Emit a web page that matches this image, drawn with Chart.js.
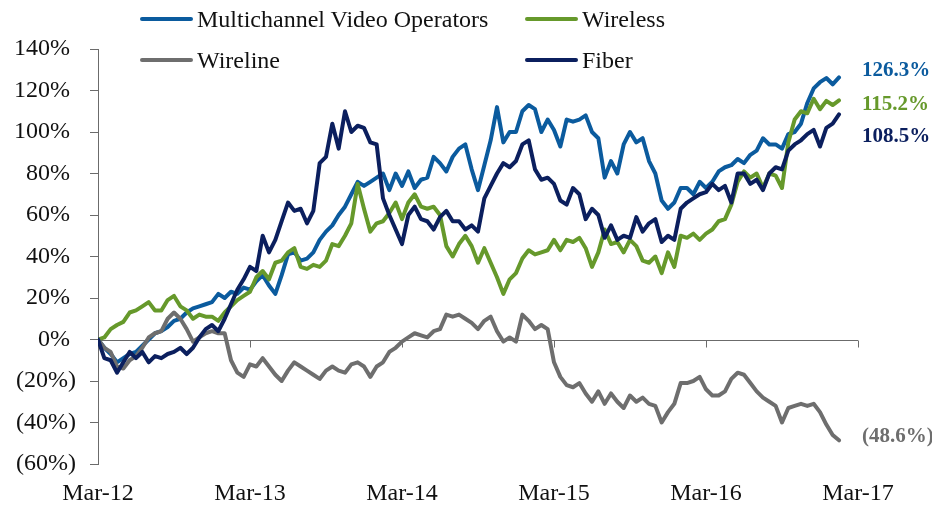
<!DOCTYPE html>
<html>
<head>
<meta charset="utf-8">
<script src="https://cdn.jsdelivr.net/npm/chart.js@4.4.1/dist/chart.umd.min.js"></script>
<style>
  html, body { margin: 0; padding: 0; background: #fff; }
  #wrap { position: relative; width: 932px; height: 505px; font-family: 'Liberation Serif', serif; }
  #chart { position: absolute; left: 0; top: 0; }
  .key { position: absolute; display: flex; align-items: center; height: 26px; font-size: 24px; color: #111; white-space: nowrap; }
  .key i { display: inline-block; width: 53px; height: 4px; margin-right: 4px; border-radius: 2px; }
</style>
</head>
<body>
<div id="wrap">
  <canvas id="chart" width="932" height="505"></canvas>
  <div id="legend"></div>
</div>
<script>
// ── data: half-month steps from Mar-12 (index 0) to Mar-17 (index 120), % change ──
const yearTicks = ['Mar-12', 'Mar-13', 'Mar-14', 'Mar-15', 'Mar-16', 'Mar-17'];
const seriesNames = ['Multichannel Video Operators', 'Wireless', 'Wireline', 'Fiber'];

const mvo = [
  0, -4, -7, -11, -9, -7, -6, -3, 0, 3, 4, 6, 9, 10, 13, 15, 16, 17, 18, 22, 20, 23, 22, 25, 24,
  28, 31, 26, 22, 31, 41, 42, 38, 39, 42, 48, 52, 55, 60, 64, 70, 76, 74, 76, 78, 80, 72, 80, 74,
  81, 73, 77, 78, 88, 85, 81, 88, 92, 94, 82, 72, 84, 96, 112, 95, 100, 100, 110, 113, 111, 100, 106, 101,
  93, 106, 105, 106, 108, 100, 97, 78, 86, 80, 94, 100, 95, 97, 86, 80, 67, 63, 66, 73, 73, 70, 76, 73,
  76, 81, 83, 84, 87, 85, 89, 91, 97, 94, 94, 92, 99, 100, 104, 114, 121, 124, 126, 123, 126.3
];
const wireless = [
  0, 1, 5, 7, 8.5, 13, 14, 16, 18, 14, 14, 19, 21, 16, 14, 10, 12, 11, 11, 9, 13, 16, 19, 21, 23,
  30, 33, 29, 37, 38, 42, 44, 35, 34, 36, 35, 38, 46, 45, 50, 56, 75, 63, 52, 56, 57, 61, 66, 58,
  66, 70, 64, 63, 64, 60, 45, 40, 46, 50, 45, 37, 44, 37, 30, 22, 29, 32, 39, 43, 41, 42, 43, 48,
  43, 48, 47, 49, 44, 35, 42, 53, 46, 47, 42, 48, 45, 38, 37, 40, 32, 42, 35, 50, 49, 51, 48, 51,
  53, 57, 58, 65, 76, 81, 78, 80, 73, 80, 79, 73, 95, 106, 110, 109, 116, 111, 115, 113, 115.2
];
const wireline = [
  0, -4, -6, -13, -14, -10, -8, -4, 1, 3, 4, 10, 13, 10, 5, -1, 1, 3, 4, 3, 3, -10, -16, -18, -12,
  -13, -9, -13, -17, -20, -15, -11, -13, -15, -17, -19, -15, -13, -15, -16, -12, -11, -13, -18, -13, -11, -6, -4, -1,
  1, 3, 2, 1, 4, 5, 12, 11, 12, 10, 8, 5, 9, 11, 4, -1, 1, -1, 12, 9, 5, 7, 5, -11,
  -18, -22, -23, -21, -26, -30, -25, -31, -26, -30, -33, -27, -30, -28, -31, -32, -40, -35, -31, -21, -21, -20, -18, -24,
  -27, -27, -25, -19, -16, -17, -21, -25, -28, -30, -32, -40, -33, -32, -31, -32, -31, -35, -41, -46, -48.6
];
const fiber = [
  0, -9, -10, -16, -11, -6, -9, -6, -11, -8, -9, -7, -6, -4, -7, -4, 1, 5, 7, 4, 10, 17, 24, 29, 35,
  33, 50, 42, 48, 57, 66, 62, 63, 56, 62, 85, 88, 104, 92, 110, 100, 103, 102, 95, 94, 68, 60, 53, 46,
  60, 64, 58, 57, 53, 59, 62, 57, 57, 53, 55, 52, 68, 74, 80, 85, 83, 86, 94, 96, 82, 77, 78, 75,
  67, 65, 73, 70, 58, 63, 60, 49, 55, 48, 50, 49, 59, 52, 56, 58, 47, 50, 48, 63, 66, 68, 70, 71,
  75, 72, 74, 66, 80, 80, 75, 77, 72, 80, 83, 82, 91, 94, 96, 99, 101, 93, 102, 104, 108.5
];

// ── styling ──
const COLORS = ['#0b5b9e', '#66992b', '#6e6e6e', '#0b1f5e'];
const AXIS = '#6b6b6b';
const FONT = "'Liberation Serif', serif";
const legendSpots = [[140, 19], [525, 19], [140, 60], [525, 60]];
const endLabelShift = [-7, 4, -4, 22];   // px nudge of the right-hand value labels
const drawOrder = [3, 2, 1, 0];          // fiber on top

Chart.defaults.font.family = FONT;
Chart.defaults.font.size = 24;
Chart.defaults.color = '#111';

const pct = v => v < 0 ? `(${-v}%)` : `${v}% `;
const toPoints = arr => arr.map((v, i) => ({ x: i, y: v }));

const axisExtras = {
  id: 'axisExtras',
  beforeDatasetsDraw(chart) {
    const { ctx, chartArea, scales: { x, y } } = chart;
    const y0 = Math.round(y.getPixelForValue(0)) + 0.5;
    ctx.save();
    ctx.strokeStyle = AXIS;
    ctx.lineWidth = 1;
    ctx.beginPath();
    ctx.moveTo(chartArea.left, y0);
    ctx.lineTo(chartArea.right, y0);
    x.ticks.forEach(t => {
      const px = Math.round(x.getPixelForValue(t.value)) + 0.5;
      ctx.moveTo(px, y0);
      ctx.lineTo(px, y0 + 7);
    });
    ctx.stroke();
    ctx.restore();
  },
  afterDatasetsDraw(chart) {
    const { ctx, chartArea, scales: { y } } = chart;
    ctx.save();
    ctx.font = `bold 21px ${FONT}`;
    ctx.textAlign = 'left';
    ctx.textBaseline = 'middle';
    chart.data.datasets.forEach((ds, i) => {
      const last = ds.data[ds.data.length - 1].y;
      const v = last.toFixed(1);
      ctx.fillStyle = ds.borderColor;
      ctx.fillText(last < 0 ? `(${-v}%)` : `${v}%`, chartArea.right + 4, y.getPixelForValue(last) + endLabelShift[i]);
    });
    ctx.restore();
  }
};

const chart = new Chart(document.getElementById('chart'), {
  type: 'line',
  data: {
    datasets: [mvo, wireless, wireline, fiber].map((arr, i) => ({
      label: seriesNames[i],
      data: toPoints(arr),
      borderColor: COLORS[i],
      backgroundColor: COLORS[i],
      borderWidth: 4,
      pointRadius: 0,
      tension: 0,
      borderJoinStyle: 'round',
      borderCapStyle: 'round',
      order: drawOrder[i]
    }))
  },
  options: {
    responsive: false,
    animation: false,
    events: [],
    layout: { padding: { top: 49, right: 74, bottom: 0, left: 0 } },
    plugins: { legend: { display: false }, tooltip: { enabled: false } },
    scales: {
      x: {
        type: 'linear',
        min: 0,
        max: 120,
        grid: { display: false, drawTicks: false },
        border: { display: false },
        afterFit: s => { s.height = 41; },
        ticks: {
          stepSize: 24,
          padding: 15,
          maxRotation: 0,
          callback: v => yearTicks[v / 24]
        }
      },
      y: {
        min: -60,
        max: 140,
        afterFit: s => { s.width = 98; },
        grid: { drawOnChartArea: false, drawTicks: true, tickLength: 8, color: AXIS },
        border: { display: true, color: AXIS },
        ticks: { stepSize: 20, padding: 14, callback: pct }
      }
    }
  },
  plugins: [axisExtras]
});

// ── html legend in a 2x2 grid ──
const legend = document.getElementById('legend');
chart.data.datasets.forEach((ds, i) => {
  const el = document.createElement('div');
  el.className = 'key';
  el.style.left = legendSpots[i][0] + 'px';
  el.style.top = (legendSpots[i][1] - 13) + 'px';
  el.innerHTML = `<i style="background:${ds.borderColor}"></i><span>${ds.label}</span>`;
  legend.appendChild(el);
});
</script>
</body>
</html>
